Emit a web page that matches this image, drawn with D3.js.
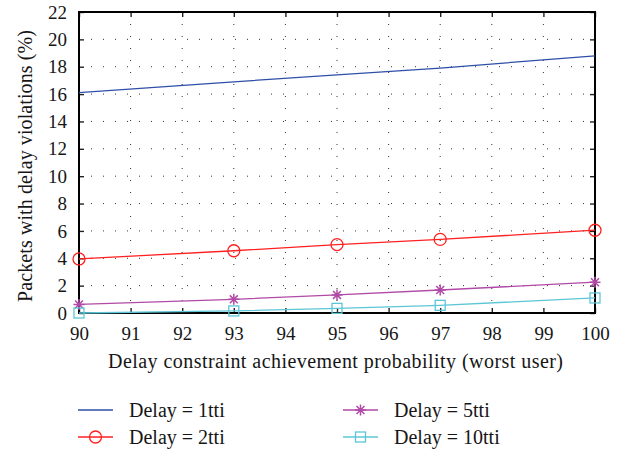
<!DOCTYPE html>
<html>
<head>
<meta charset="utf-8">
<script src="https://cdn.jsdelivr.net/npm/d3@7"></script>
<style>
  html, body { margin: 0; padding: 0; background: #fff; }
  svg text { font-family: "Liberation Serif", "DejaVu Serif", serif; fill: #161616; }
</style>
</head>
<body>
<svg id="chart" width="619" height="450"></svg>
<script>
// Delay constraint achievement probability (%) at each sample
const xValues = [90, 93, 95, 97, 100];
// Percentage of packets with delay violations per delay budget
const delay1 = [16.1, 16.9, 17.4, 17.9, 18.8];
const delay2 = [3.95, 4.55, 5.0, 5.38, 6.05];
const delay5 = [0.63, 1.0, 1.32, 1.68, 2.25];
const delay10 = [0.0, 0.15, 0.34, 0.56, 1.1];
const seriesNames = ["Delay = 1tti", "Delay = 2tti", "Delay = 5tti", "Delay = 10tti"];
const xTicks = [90, 91, 92, 93, 94, 95, 96, 97, 98, 99, 100];
const yTicks = [0, 2, 4, 6, 8, 10, 12, 14, 16, 18, 20, 22];

const series = [
  { name: seriesNames[0], values: delay1, color: "#2e4fa8", marker: "none" },
  { name: seriesNames[1], values: delay2, color: "#ff2020", marker: "circle" },
  { name: seriesNames[2], values: delay5, color: "#b04aa6", marker: "star" },
  { name: seriesNames[3], values: delay10, color: "#5cc6d6", marker: "square" }
];

const svg = d3.select("#chart");
const plotLeft = 79, plotRight = 595, plotTop = 12, plotBottom = 313;

const x = d3.scaleLinear().domain([90, 100]).range([plotLeft, plotRight]);
const y = d3.scaleLinear().domain([0, 22]).range([plotBottom, plotTop]);

// Dotted grid
const grid = svg.append("g");
grid.selectAll("line.gx").data(xTicks.slice(1, -1)).join("line")
  .attr("x1", d => x(d)).attr("x2", d => x(d))
  .attr("y1", plotTop).attr("y2", plotBottom)
  .attr("stroke", "#333").attr("stroke-width", 1)
  .attr("stroke-dasharray", "1,11");
grid.selectAll("line.gy").data(yTicks.slice(1, -1)).join("line")
  .attr("x1", plotLeft).attr("x2", plotRight)
  .attr("y1", d => y(d)).attr("y2", d => y(d))
  .attr("stroke", "#333").attr("stroke-width", 1)
  .attr("stroke-dasharray", "1,11");

// Axes with inward ticks on all four sides
const tickFont = 19;
const titleFont = 20;
const xAxis = svg.append("g").attr("transform", `translate(0,${plotBottom})`)
  .call(d3.axisBottom(x).tickValues(xTicks).tickSize(-5).tickPadding(14).tickFormat(d3.format("d")));
const xAxisTop = svg.append("g").attr("transform", `translate(0,${plotTop})`)
  .call(d3.axisTop(x).tickValues(xTicks).tickSize(-5).tickFormat(""));
const yAxis = svg.append("g").attr("transform", `translate(${plotLeft},0)`)
  .call(d3.axisLeft(y).tickValues(yTicks).tickSize(-5).tickPadding(12).tickFormat(d3.format("d")));
const yAxisRight = svg.append("g").attr("transform", `translate(${plotRight},0)`)
  .call(d3.axisRight(y).tickValues(yTicks).tickSize(-5).tickFormat(""));
[xAxis, xAxisTop, yAxis, yAxisRight].forEach(g => {
  g.select(".domain").remove();
  g.selectAll(".tick line").attr("stroke", "#222").attr("stroke-width", 1.4);
  g.selectAll("text").attr("font-size", tickFont)
    .attr("font-family", "Liberation Serif, serif").attr("fill", "#161616");
});

// Frame
svg.append("rect").attr("x", plotLeft).attr("y", plotTop)
  .attr("width", plotRight - plotLeft).attr("height", plotBottom - plotTop)
  .attr("fill", "none").attr("stroke", "#000").attr("stroke-width", 2);

// Axis titles
svg.append("text").attr("x", 335.5).attr("y", 368)
  .attr("text-anchor", "middle").attr("font-size", titleFont)
  .attr("textLength", 455).attr("lengthAdjust", "spacing")
  .text("Delay constraint achievement probability (worst user)");
svg.append("text")
  .attr("transform", "translate(32,166) rotate(-90)")
  .attr("text-anchor", "middle").attr("font-size", titleFont)
  .attr("textLength", 272).attr("lengthAdjust", "spacing")
  .text("Packets with delay violations (%)");

// Marker drawing
function drawMarker(g, type, cx, cy, color) {
  if (type === "circle") {
    g.append("circle").attr("cx", cx).attr("cy", cy).attr("r", 6)
      .attr("fill", "none").attr("stroke", color).attr("stroke-width", 1.3);
  } else if (type === "square") {
    g.append("rect").attr("x", cx - 5).attr("y", cy - 5).attr("width", 10).attr("height", 10)
      .attr("fill", "none").attr("stroke", color).attr("stroke-width", 1.3);
  } else if (type === "star") {
    const r = 5.5, d = r * 0.72;
    const p = `M${cx - r},${cy}L${cx + r},${cy}M${cx},${cy - r}L${cx},${cy + r}` +
      `M${cx - d},${cy - d}L${cx + d},${cy + d}M${cx - d},${cy + d}L${cx + d},${cy - d}`;
    g.append("path").attr("d", p).attr("stroke", color).attr("stroke-width", 1.5).attr("fill", "none");
  }
}

// Series lines and markers
const line = d3.line().x((d, i) => x(xValues[i])).y(d => y(d));
const plot = svg.append("g");
series.forEach(s => {
  plot.append("path").datum(s.values).attr("d", line)
    .attr("fill", "none").attr("stroke", s.color).attr("stroke-width", 1.3);
  s.values.forEach((v, i) => drawMarker(plot, s.marker, x(xValues[i]), y(v), s.color));
});

// Legend (two columns)
const legendPos = [[78, 410], [78, 437], [343, 410], [343, 437]];
series.forEach((s, i) => {
  const [lx, ly] = legendPos[i];
  const g = svg.append("g");
  g.append("line").attr("x1", lx).attr("x2", lx + 35).attr("y1", ly).attr("y2", ly)
    .attr("stroke", s.color).attr("stroke-width", 1.3);
  drawMarker(g, s.marker, lx + 17.5, ly, s.color);
  g.append("text").attr("x", lx + 51).attr("y", ly + 6.5).attr("font-size", titleFont).text(s.name);
});
</script>
</body>
</html>
